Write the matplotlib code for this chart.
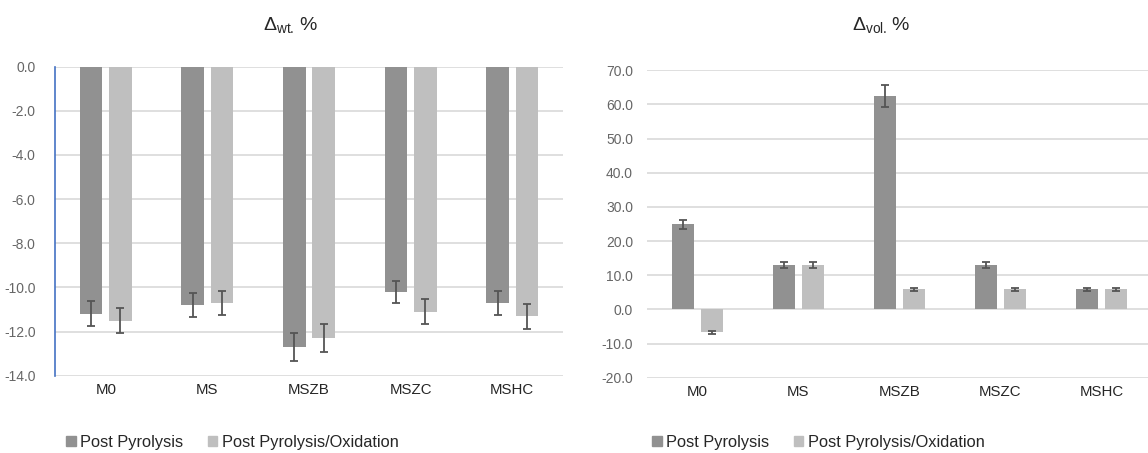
import matplotlib
matplotlib.use("Agg")
import matplotlib.pyplot as plt
from matplotlib.patches import Patch
import numpy as np

categories = ["M0", "MS", "MSZB", "MSZC", "MSHC"]
series_names = ["Post Pyrolysis", "Post Pyrolysis/Oxidation"]

wt_pyro = [-11.2, -10.8, -12.7, -10.2, -10.7]
wt_pyro_err = [0.57, 0.55, 0.62, 0.50, 0.53]
wt_oxid = [-11.5, -10.7, -12.3, -11.1, -11.3]
wt_oxid_err = [0.57, 0.53, 0.63, 0.57, 0.57]

vol_pyro = [24.9, 13.0, 62.6, 13.0, 5.9]
vol_pyro_err = [1.4, 0.9, 3.2, 0.9, 0.5]
vol_oxid = [-6.7, 13.0, 5.9, 5.9, 5.9]
vol_oxid_err = [0.4, 0.9, 0.5, 0.5, 0.5]

wt_ticks = [0, -2, -4, -6, -8, -10, -12, -14]
vol_ticks = [70, 60, 50, 40, 30, 20, 10, 0, -10, -20]

plt.rcParams['mathtext.fontset'] = 'custom'
plt.rcParams['mathtext.rm'] = 'Liberation Sans'
plt.rcParams['mathtext.it'] = 'Liberation Sans:italic'

DARK = "#919191"
LIGHT = "#bfbfbf"
ERR = "#555555"
GRID = "#d9d9d9"
TICKC = "#666666"
TXT = "#262626"

W, H = 1148, 453
fig = plt.figure(figsize=(W / 100, H / 100), dpi=100)

def px(x0, y0, x1, y1):
    return [x0 / W, 1 - y1 / H, (x1 - x0) / W, (y1 - y0) / H]

ax1 = fig.add_axes(px(55, 66.7, 563, 375.7))
ax2 = fig.add_axes(px(647, 70.3, 1152, 377.7))

bw = 0.222
gap = 0.066
off = (bw + gap) / 2
x = np.arange(len(categories))

def draw(ax, a, aerr, b, berr, ticks, ylim, pad):
    ax.bar(x - off, a, bw, color=DARK, zorder=3)
    ax.bar(x + off, b, bw, color=LIGHT, zorder=3)
    ax.errorbar(x - off, a, yerr=aerr, fmt='none', ecolor=ERR, elinewidth=1.3,
                capsize=3.2, capthick=1.3, zorder=4)
    ax.errorbar(x + off, b, yerr=berr, fmt='none', ecolor=ERR, elinewidth=1.3,
                capsize=3.2, capthick=1.3, zorder=4)
    ax.set_xlim(-0.5, len(categories) - 0.5)
    ax.set_ylim(*ylim)
    ax.set_yticks(ticks)
    ax.set_yticklabels([f"{t:.1f}" for t in ticks], fontsize=10, color=TICKC,
                       family='Liberation Sans')
    ax.set_xticks(x)
    ax.set_xticklabels(categories, fontsize=10.8, color=TXT, family='Liberation Sans')
    ax.tick_params(axis='both', length=0)
    ax.tick_params(axis='y', pad=pad)
    ax.tick_params(axis='x', pad=5)
    ax.grid(axis='y', color=GRID, linewidth=1.2, zorder=0)
    ax.set_axisbelow(True)
    for s in ax.spines.values():
        s.set_visible(False)

draw(ax1, wt_pyro, wt_pyro_err, wt_oxid, wt_oxid_err, wt_ticks, (-14, 0), 14)
ax1.spines['left'].set_visible(True)
ax1.spines['left'].set_color('#4472c4')
ax1.spines['left'].set_linewidth(1.2)

draw(ax2, vol_pyro, vol_pyro_err, vol_oxid, vol_oxid_err, vol_ticks, (-20, 70), 10)

fig.text(290 / W, 1 - 25 / H, r'$\mathrm{\Delta}_{\mathrm{wt.}}\,$%', ha='center', va='center',
         fontsize=14, color=TXT, family='Liberation Sans')
fig.text(881 / W, 1 - 25 / H, r'$\mathrm{\Delta}_{\mathrm{vol.}}\,$%', ha='center', va='center',
         fontsize=14, color=TXT, family='Liberation Sans')

handles = [Patch(color=DARK), Patch(color=LIGHT)]
for lx in (66, 652):
    fig.legend(handles, series_names, loc='center left', bbox_to_anchor=(lx / W, 1 - 442 / H),
               ncol=2, frameon=False, handlelength=0.6, handleheight=0.6,
               handletextpad=0.25, columnspacing=1.5, borderpad=0, borderaxespad=0,
               prop={'family': 'Liberation Sans', 'size': 11.8}, labelcolor=TXT)

fig.savefig("out.png", dpi=100)
